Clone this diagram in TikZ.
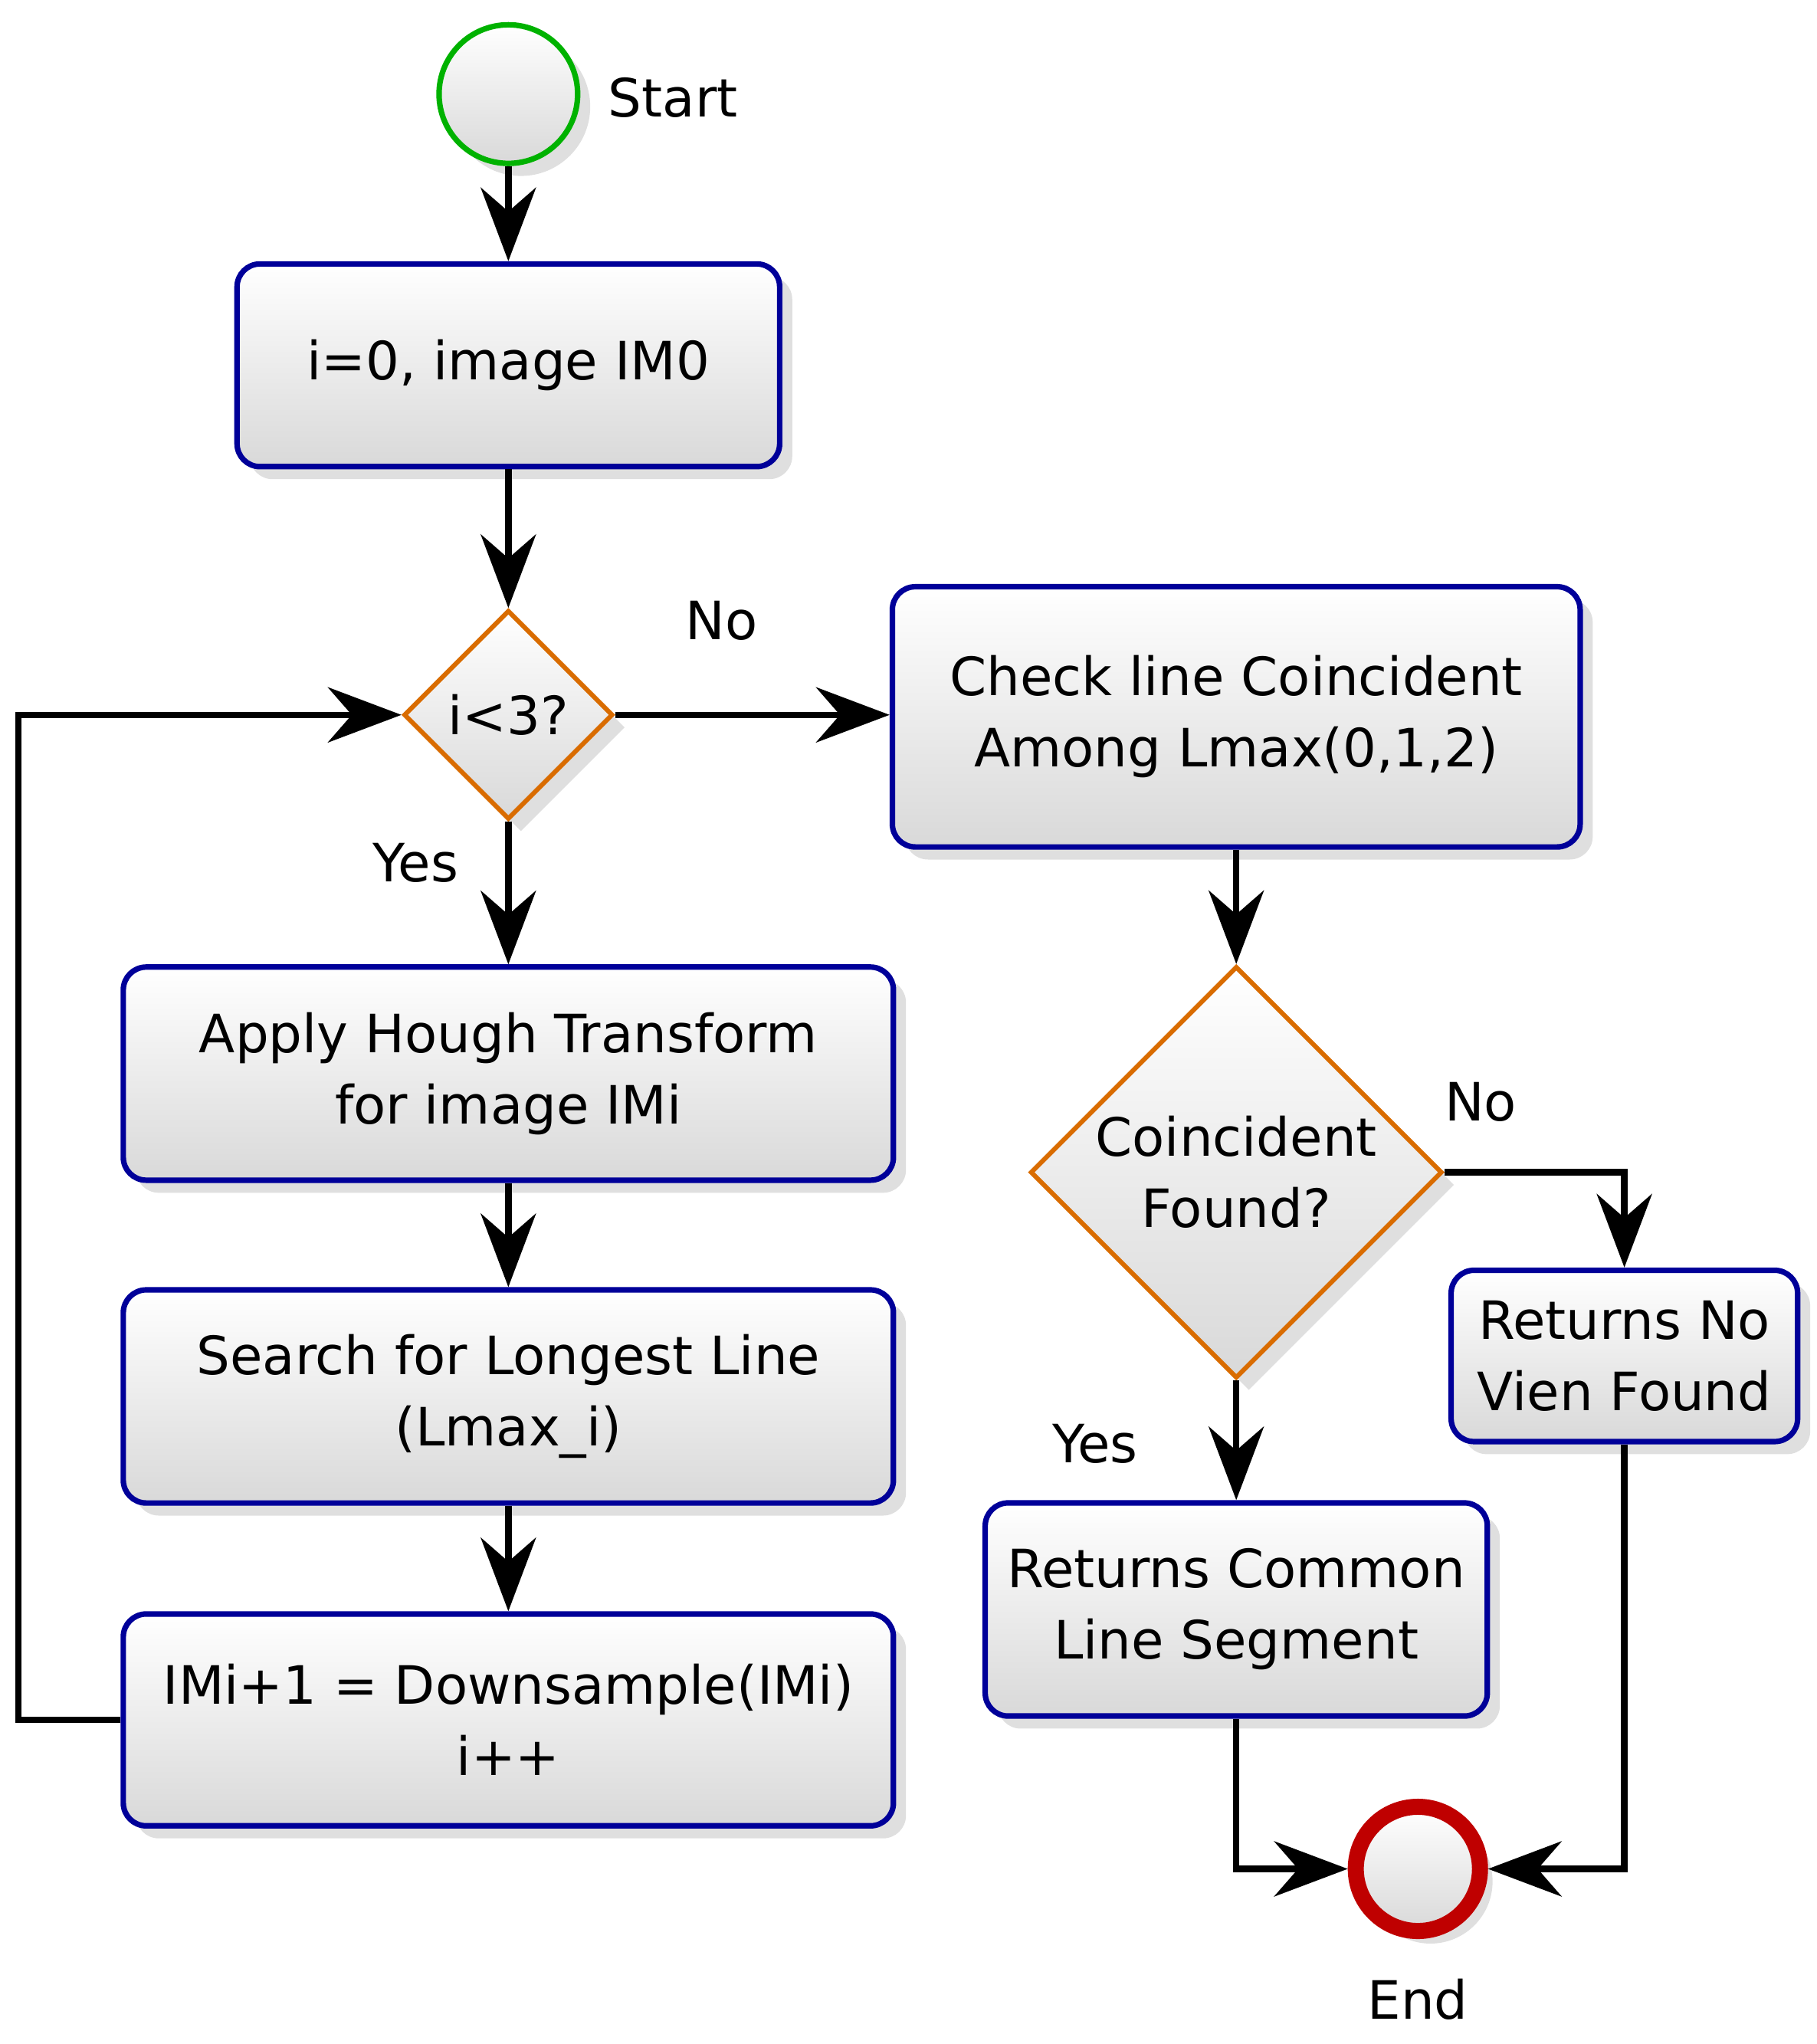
\documentclass[tikz,border=0pt]{standalone}
\usepackage{fontspec}
\setmainfont{DejaVu Sans}
\usetikzlibrary{arrows.meta,shapes.geometric,shadows}
\begin{document}
\begin{tikzpicture}[x=0.01cm,y=-0.01cm,
  font=\fontsize{11.5}{15.5}\selectfont,
  box/.style={draw=blue!60!black,line width=1.2pt,rounded corners=5pt,top color=white,bottom color=gray!30,drop shadow={opacity=0.25},align=center},
  dia/.style={diamond,draw=orange!85!black,line width=1pt,top color=white,bottom color=gray!30,align=center,inner sep=0pt,drop shadow={opacity=0.25}},
  arr/.style={-{Stealth[length=16pt,width=12pt]},line width=1.4pt}]
\useasboundingbox (0,0) rectangle (1390,1564);
\node[circle,draw=green!70!black,line width=1.2pt,minimum size=1.06cm,top color=white,bottom color=gray!30,drop shadow={opacity=0.25}] (start) at (389,72) {};
\node (startl) at (515,75) {Start};
\node[box,minimum width=4.15cm,minimum height=1.55cm] (b1) at (389,279.5) {i=0, image IM0};
\node[dia,minimum width=1.6cm,minimum height=1.6cm] (d1) at (389,547) {i<3?};
\node[box,minimum width=5.26cm,minimum height=1.99cm] (chk) at (946,548.5) {Check line Coincident\\Among Lmax(0,1,2)};
\node[box,minimum width=5.89cm,minimum height=1.63cm] (ap) at (389,821.5) {Apply Hough Transform\\for image IMi};
\node[box,minimum width=5.89cm,minimum height=1.63cm] (se) at (389,1068.5) {Search for Longest Line\\(Lmax\_i)};
\node[box,minimum width=5.89cm,minimum height=1.62cm] (im) at (389,1316) {IMi+1 = Downsample(IMi)\\i++};
\node[dia,minimum width=3.15cm,minimum height=3.15cm] (d2) at (946,897) {Coincident\\Found?};
\node[box,minimum width=2.65cm,minimum height=1.31cm] (no) at (1243,1037.5) {Returns No\\Vien Found};
\node[box,minimum width=3.84cm,minimum height=1.63cm] (co) at (946,1231.5) {Returns Common\\Line Segment};
\node[circle,draw=red!75!black,line width=3.5pt,minimum size=0.95cm,top color=white,bottom color=gray!30,drop shadow={opacity=0.25}] (end) at (1085,1430) {};
\node (endl) at (1085,1530) {End};
\node (l1) at (552,475) {No};
\node (l2) at (318,660) {Yes};
\node (l3) at (1133,843) {No};
\node (l4) at (838,1105) {Yes};
\coordinate (c1) at (14,1316);
\draw[arr] (start) -- (b1);
\draw[arr] (b1) -- (d1);
\draw[arr] (d1) -- (chk.west |- d1);
\draw[arr] (d1) -- (ap);
\draw[arr] (ap) -- (se);
\draw[arr] (se) -- (im);
\draw[arr] (im.west) -- (c1) |- (d1.west);
\draw[arr] (chk) -- (d2);
\draw[arr] (d2.east) -| (no.north);
\draw[arr] (d2.south) -- (co.north);
\draw[arr] (no.south) |- (end.east);
\draw[arr] (co.south) |- (end.west);
\end{tikzpicture}
\end{document}
